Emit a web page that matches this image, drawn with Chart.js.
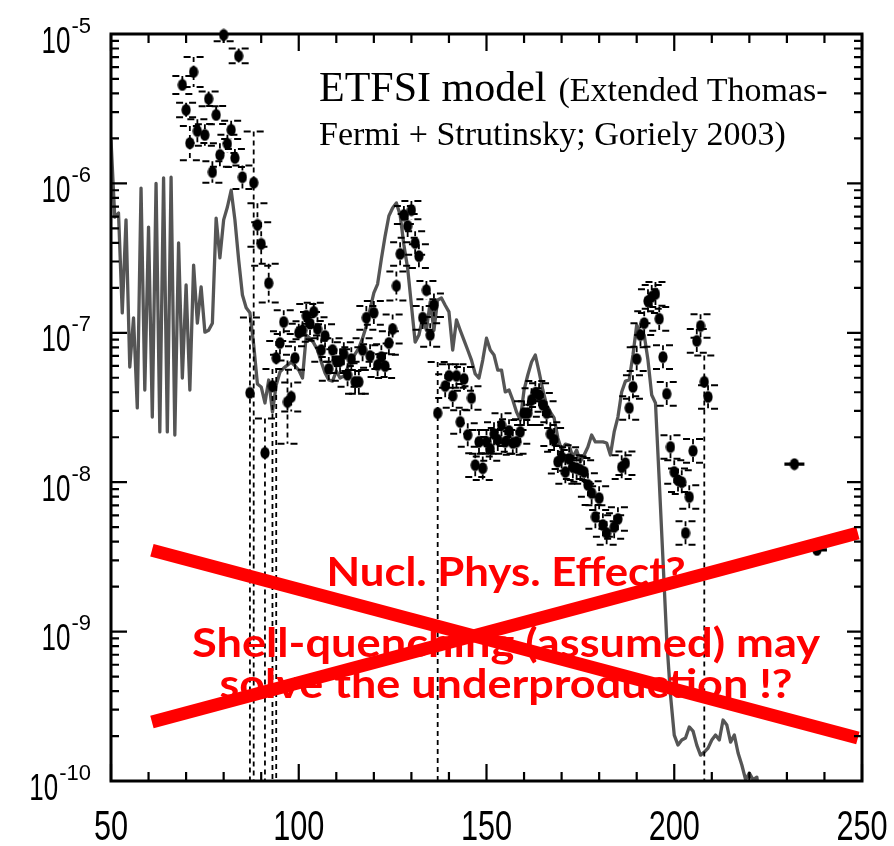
<!DOCTYPE html>
<html>
<head>
<meta charset="utf-8">
<script src="https://cdn.jsdelivr.net/npm/chart.js@4.4.0/dist/chart.umd.min.js"></script>
<style>
  html, body { margin: 0; padding: 0; background: #fff; }
  canvas { display: block; }
</style>
</head>
<body>
<canvas id="chart" width="894" height="846"></canvas>
<script>
// ETFSI model abundances, one value per mass number starting at A = 50
const modelStartA = 50;
const modelAbundance = [
  1.95e-6, 5.95e-7, 6.33e-7, 1.36e-7, 5.7e-7, 5.9e-8, 1.26e-7, 3.14e-8, 9.3e-7, 4.14e-8,
  5.1e-7, 2.73e-8, 1.0e-6, 2.17e-8, 1.09e-6, 2.17e-8, 1.10e-6, 2.07e-8, 3.99e-7, 4.98e-8,
  2.09e-7, 4.14e-8, 2.84e-7, 1.16e-7, 2.03e-7, 1.01e-7, 1.04e-7, 1.16e-7, 5.86e-7, 3.17e-7,
  5.7e-7, 6.95e-7, 9.0e-7, 5.7e-7, 3.07e-7, 1.79e-7, 1.47e-7, 1.36e-7, 8.3e-8, 4.54e-8,
  4.34e-8, 3.39e-8, 4.83e-8, 2.95e-8, 4.47e-8, 5.47e-8, 5.81e-8, 6.08e-8, 6.37e-8, 6.0e-8,
  5.63e-8, 4.98e-8, 9.66e-8, 9.2e-8, 8.53e-8, 7.67e-8, 6.37e-8, 5.38e-8, 4.83e-8, 4.75e-8,
  5.55e-8, 4.98e-8, 5.14e-8, 5.81e-8, 6.57e-8, 7.2e-8, 7.9e-8, 9.2e-8, 1.11e-7, 1.44e-7,
  1.85e-7, 2.12e-7, 3.12e-7, 4.44e-7, 6.05e-7, 6.84e-7, 7.4e-7, 6.15e-7, 3.87e-7, 2.71e-7,
  1.53e-7, 8.66e-8, 9.66e-8, 1.26e-7, 1.04e-7, 1.61e-7, 1.04e-7, 1.66e-7, 1.71e-7, 1.53e-7,
  1.38e-7, 7.67e-8, 1.22e-7, 1.04e-7, 8.94e-8, 7.67e-8, 6.57e-8, 5.3e-8, 4.98e-8, 6.57e-8,
  9.2e-8, 7.67e-8, 7.1e-8, 5.63e-8, 5.63e-8, 4.02e-8, 4.14e-8, 3.55e-8, 2.95e-8, 2.61e-8,
  4.14e-8, 5.22e-8, 6.37e-8, 7.1e-8, 5.47e-8, 4.14e-8, 3.29e-8, 2.95e-8, 2.69e-8, 1.98e-8,
  1.64e-8, 1.8e-8, 1.77e-8, 1.47e-8, 1.64e-8, 1.37e-8, 1.52e-8, 1.72e-8, 2.07e-8, 1.86e-8,
  1.86e-8, 1.86e-8, 1.83e-8, 1.52e-8, 2.17e-8, 2.73e-8, 4.02e-8, 4.75e-8, 4.83e-8, 7.1e-8,
  1.13e-7, 1.0e-7, 9.66e-8, 6.57e-8, 3.83e-8, 3.39e-8, 1.03e-8, 3.01e-9, 8.8e-10, 3.76e-10,
  2.03e-10, 1.74e-10, 1.88e-10, 1.94e-10, 2.3e-10, 2.16e-10, 1.74e-10, 1.49e-10, 1.56e-10, 1.66e-10,
  1.88e-10, 2.03e-10, 1.88e-10, 2.56e-10, 2.37e-10, 1.82e-10, 2.03e-10, 1.54e-10, 1.28e-10, 1.02e-10,
  1.13e-10, 1.02e-10, 1.06e-10, 7e-11
];

// Solar r-process abundances with multiplicative uncertainty
const solarA = [
  69, 70, 71, 72, 73, 75, 76, 77, 78, 79,
  80, 81, 82, 83, 84, 85, 87, 88, 89, 90,
  91, 92, 93, 94, 95, 96, 97, 98, 99, 100,
  101, 102, 103, 104, 105, 106, 107, 108, 109, 110,
  111, 112, 113, 114, 115, 116, 117, 118, 119, 120,
  121, 122, 123, 124, 125, 126, 127, 128, 129, 130,
  131, 132, 133, 134, 135, 136, 137, 139, 140, 141,
  142, 143, 144, 145, 146, 147, 148, 149, 150, 151,
  152, 153, 154, 155, 156, 157, 158, 159, 160, 161,
  162, 163, 164, 165, 166, 167, 168, 169, 170, 171,
  172, 173, 174, 175, 176, 177, 178, 179, 180, 181,
  182, 184, 185, 186, 187, 188, 189, 190, 191, 192,
  193, 194, 195, 196, 197, 198, 199, 200, 201, 202,
  203, 204, 205, 206, 207, 208, 209, 232, 238
];
const solarAbundance = [
  4.56e-6, 3.10e-6, 1.86e-6, 5.57e-6, 2.24e-6, 2.11e-6, 3.68e-6, 1.19e-6, 2.87e-6, 1.55e-6,
  9.85e-6, 1.84e-6, 2.28e-6, 1.48e-6, 7.13e-6, 1.10e-6, 3.96e-8, 1.01e-6, 5.27e-7, 3.93e-7,
  1.57e-8, 2.15e-7, 4.40e-8, 6.78e-8, 8.54e-8, 1.18e-7, 3.44e-8, 3.72e-8, 6.78e-8, 1.0e-7,
  1.04e-7, 1.30e-7, 1.15e-7, 1.38e-7, 1.06e-7, 7.67e-8, 9.52e-8, 5.73e-8, 7.67e-8, 6.47e-8,
  6.47e-8, 7.20e-8, 5.22e-8, 6.67e-8, 4.69e-8, 4.69e-8, 7.67e-8, 1.26e-7, 6.99e-8, 1.36e-7,
  6.08e-8, 6.88e-8, 5.98e-8, 8.54e-8, 1.06e-7, 2.06e-7, 3.37e-7, 6.14e-7, 5.19e-7, 6.62e-7,
  3.99e-7, 3.26e-7, 1.26e-7, 1.93e-7, 9.66e-8, 1.53e-7, 2.90e-8, 4.40e-8, 5.14e-8, 3.78e-8,
  5.14e-8, 2.53e-8, 4.91e-8, 2.07e-8, 3.66e-8, 1.30e-8, 1.86e-8, 1.24e-8, 1.86e-8, 1.67e-8,
  2.10e-8, 1.92e-8, 2.41e-8, 1.86e-8, 2.20e-8, 1.83e-8, 1.86e-8, 2.17e-8, 2.90e-8, 2.90e-8,
  3.55e-8, 3.96e-8, 3.83e-8, 3.29e-8, 2.90e-8, 2.10e-8, 1.92e-8, 1.37e-8, 1.47e-8, 1.17e-8,
  1.43e-8, 1.26e-8, 1.24e-8, 1.21e-8, 1.17e-8, 9.58e-9, 8.46e-9, 5.85e-9, 7.83e-9, 5.17e-9,
  4.57e-9, 5.01e-9, 5.67e-9, 1.26e-8, 1.34e-8, 3.14e-8, 4.34e-8, 6.67e-8, 9.66e-8, 1.16e-7,
  1.63e-7, 1.74e-7, 1.82e-7, 1.24e-7, 6.88e-8, 3.90e-8, 1.72e-8, 1.17e-8, 1.03e-8, 1.0e-8,
  4.57e-9, 7.96e-9, 1.62e-8, 8.82e-8, 1.11e-7, 4.69e-8, 3.72e-8, 1.32e-8, 3.52e-9
];
const solarErrFactor = [
  1.15, 1.12, 1.3, 1.26, 1.2, 1.18, 1.12, 1.18, 1.15, 1.2,
  1.1, 1.15, 1.15, 1.15, 1.12, 1.2, 3.2, 2.2, 1.4, 1.4,
  1.7, 1.35, 1.3, 1.3, 1.2, 1.2, 1.9, 1.25, 1.2, 1.15,
  1.15, 1.2, 1.2, 1.15, 1.2, 1.2, 1.2, 1.2, 1.2, 1.2,
  1.2, 1.2, 1.2, 1.2, 1.2, 1.2, 1.2, 1.2, 1.2, 1.2,
  1.2, 1.2, 1.2, 1.2, 1.25, 1.25, 1.2, 1.15, 1.2, 1.15,
  1.2, 1.2, 1.2, 1.15, 1.2, 1.2, 2.2, 1.2, 1.2, 1.2,
  1.2, 1.2, 1.2, 1.2, 1.2, 1.2, 1.2, 1.2, 1.2, 1.2,
  1.2, 1.2, 1.2, 1.2, 1.2, 1.2, 1.2, 1.2, 1.2, 1.2,
  1.2, 1.2, 1.2, 1.2, 1.2, 1.2, 1.2, 1.2, 1.2, 1.2,
  1.2, 1.2, 1.2, 1.2, 1.2, 1.2, 1.2, 1.2, 1.2, 1.2,
  1.2, 1.2, 1.2, 1.2, 1.2, 1.2, 1.2, 1.2, 1.2, 1.2,
  1.2, 1.2, 1.2, 1.2, 1.2, 1.2, 1.2, 1.2, 1.2, 1.2,
  1.2, 1.2, 1.2, 1.2, 1.2, 1.5, 1.2, 1.01, 1.01
];
// mass numbers whose lower uncertainty runs off the bottom of the plot
const openBelowA = [87, 88, 91, 93, 94, 137, 208];

// the red cross drawn over the plot
const crossLineDown = [{ x: 60.9, y: 3.5e-9 }, { x: 248.9, y: 1.94e-10 }];
const crossLineUp = [{ x: 60.9, y: 2.48e-10 }, { x: 248.9, y: 4.57e-9 }];

const xTickValues = [50, 100, 150, 200, 250];
const yTickExponents = [-5, -6, -7, -8, -9, -10];

const titleMain = 'ETFSI model';
const titleRest = '(Extended Thomas-';
const titleLine2 = 'Fermi + Strutinsky; Goriely 2003)';
const overlayText = ['Nucl. Phys. Effect?', 'Shell-quenching (assumed) may', 'solve the underproduction !?'];

const modelPoints = modelAbundance.map((v, i) => ({ x: modelStartA + i, y: v }));
const solarPoints = solarA.map((a, i) => ({ x: a, y: solarAbundance[i] }));

// filled ellipse marker
const marker = document.createElement('canvas');
marker.width = 10; marker.height = 13;
(() => {
  const m = marker.getContext('2d');
  m.fillStyle = '#000';
  m.beginPath();
  m.ellipse(5, 6.5, 4.6, 6.0, 0, 0, Math.PI * 2);
  m.fill();
})();

function drawErrorBars(chart) {
  const { ctx, chartArea: a, scales: { x, y } } = chart;
  ctx.save();
  ctx.beginPath();
  ctx.rect(a.left, a.top, a.right - a.left, a.bottom - a.top);
  ctx.clip();
  ctx.strokeStyle = '#000';
  ctx.lineWidth = 1.8;
  solarA.forEach((A, i) => {
    const v = solarAbundance[i], f = solarErrFactor[i];
    const px = x.getPixelForValue(A);
    const open = openBelowA.includes(A);
    const yHi = y.getPixelForValue(v * f);
    const yLo = open ? a.bottom + 10 : y.getPixelForValue(v / f);
    ctx.setLineDash([5, 4]);
    ctx.beginPath();
    ctx.moveTo(px, yHi);
    ctx.lineTo(px, yLo);
    ctx.stroke();
    ctx.lineWidth = 2;
    ctx.setLineDash([7, 6]);
    ctx.beginPath();
    ctx.moveTo(px - 10, yHi); ctx.lineTo(px + 10, yHi);
    if (!open) { ctx.moveTo(px - 10, yLo); ctx.lineTo(px + 10, yLo); }
    ctx.stroke();
    ctx.lineWidth = 1.8;
  });
  ctx.restore();
}

function condensedText(ctx, text, x, y, sx, align) {
  ctx.save();
  const w = ctx.measureText(text).width * sx;
  let left = x;
  if (align === 'center') left = x - w / 2;
  else if (align === 'right') left = x - w;
  ctx.translate(left, y);
  ctx.scale(sx, 1);
  ctx.textAlign = 'left';
  ctx.fillText(text, 0, 0);
  ctx.restore();
  return w;
}

const framePlugin = {
  id: 'frame',
  afterDatasetDraw(chart, args) {
    if (chart.data.datasets[args.index].label === 'ETFSI') drawErrorBars(chart);
  },
  afterDatasetsDraw(chart) {
    const { ctx, chartArea: a, scales: { x, y } } = chart;
    ctx.save();
    ctx.strokeStyle = '#000';
    ctx.fillStyle = '#000';

    // inward ticks on all four sides
    ctx.lineWidth = 2.2;
    ctx.beginPath();
    for (let v = 50; v <= 250; v += 10) {
      const px = x.getPixelForValue(v);
      const len = v % 50 === 0 ? 17 : 9;
      ctx.moveTo(px, a.bottom); ctx.lineTo(px, a.bottom - len);
      ctx.moveTo(px, a.top); ctx.lineTo(px, a.top + len);
    }
    for (let k = -10; k <= -5; k++) {
      const py = y.getPixelForValue(Math.pow(10, k));
      ctx.moveTo(a.left, py); ctx.lineTo(a.left + 16, py);
      ctx.moveTo(a.right, py); ctx.lineTo(a.right - 15, py);
      if (k < -5) {
        for (let m = 2; m <= 9; m++) {
          const pm = y.getPixelForValue(m * Math.pow(10, k));
          ctx.moveTo(a.left, pm); ctx.lineTo(a.left + 8, pm);
          ctx.moveTo(a.right, pm); ctx.lineTo(a.right - 8, pm);
        }
      }
    }
    ctx.stroke();

    // frame
    ctx.lineWidth = 3;
    ctx.strokeRect(a.left, a.top, a.right - a.left, a.bottom - a.top);

    // x tick labels
    ctx.font = '42px "Liberation Sans", Arial, sans-serif';
    ctx.textBaseline = 'alphabetic';
    xTickValues.forEach(v => {
      condensedText(ctx, String(v), x.getPixelForValue(v), 840, 0.73, 'center');
    });

    // y tick labels: 10 with a raised exponent
    yTickExponents.forEach(e => {
      const py = y.getPixelForValue(Math.pow(10, e));
      ctx.font = '22px "Liberation Sans", Arial, sans-serif';
      const sup = '-' + String(-e);
      const sw = ctx.measureText(sup).width;
      ctx.textAlign = 'left';
      ctx.fillText(sup, 91 - sw, py - 1.5);
      ctx.font = '36px "Liberation Sans", Arial, sans-serif';
      condensedText(ctx, '10', 91 - sw - 1, py + 18.5, 0.72, 'right');
    });

    // model caption
    ctx.textAlign = 'left';
    ctx.font = '42px "Liberation Serif", "Times New Roman", serif';
    ctx.fillText(titleMain, 319, 101);
    const wMain = ctx.measureText(titleMain).width;
    ctx.font = '34px "Liberation Serif", "Times New Roman", serif';
    ctx.fillText(titleRest, 319 + wMain + 12, 101);
    ctx.fillText(titleLine2, 319, 145);
    ctx.restore();

    // red overlay text
    ctx.save();
    ctx.fillStyle = '#ff0000';
    ctx.font = 'bold 40px Lato, "Open Sans", sans-serif';
    const widths = [359, 628, 573];
    const baselines = [586, 657, 698];
    overlayText.forEach((t, i) => {
      const w = ctx.measureText(t).width;
      condensedText(ctx, t, 506, baselines[i], widths[i] / w, 'center');
    });
    ctx.restore();
  }
};

new Chart(document.getElementById('chart'), {
  type: 'line',
  data: {
    datasets: [
      {
        label: 'crossDown',
        data: crossLineDown,
        borderColor: '#ff0000',
        borderWidth: 13,
        borderCapStyle: 'butt',
        pointRadius: 0,
        order: 0
      },
      {
        label: 'crossUp',
        data: crossLineUp,
        borderColor: '#ff0000',
        borderWidth: 13,
        borderCapStyle: 'butt',
        pointRadius: 0,
        order: 1
      },
      {
        label: 'solar r-process',
        data: solarPoints,
        showLine: false,
        pointStyle: marker,
        pointRadius: 5,
        clip: false,
        order: 2
      },
      {
        label: 'ETFSI',
        data: modelPoints,
        borderColor: '#555555',
        borderWidth: 3.3,
        pointRadius: 0,
        tension: 0,
        borderJoinStyle: 'round',
        order: 3
      }
    ]
  },
  options: {
    responsive: false,
    animation: false,
    devicePixelRatio: 1,
    layout: { padding: { left: 111, top: 34, right: 32, bottom: 65 } },
    plugins: { legend: { display: false }, tooltip: { enabled: false } },
    scales: {
      x: { type: 'linear', min: 50, max: 250, display: false },
      y: { type: 'logarithmic', min: 1e-10, max: 1e-5, display: false }
    }
  },
  plugins: [framePlugin]
});
</script>
</body>
</html>
